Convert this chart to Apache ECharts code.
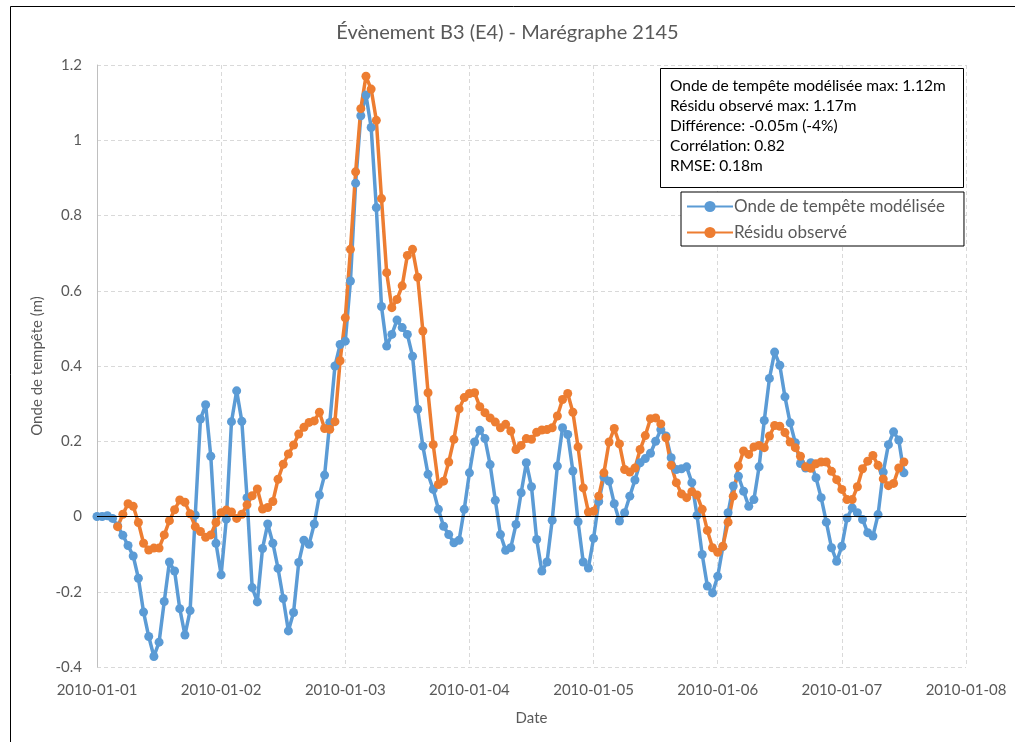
<!DOCTYPE html>
<html lang="fr">
<head>
    <meta charset="UTF-8">
    <title>Évènement B3 (E4) - Marégraphe 2145</title>
    <script type="text/javascript" src="https://cdn.jsdelivr.net/npm/echarts@6/dist/echarts.min.js"></script>
    <style>
        html, body { margin: 0; padding: 0; background: #fff; }
    </style>
</head>
<body>
    <div id="main" style="width: 1015px;height:742px;"></div>
    <script type="text/javascript">
        // étiquettes de l'axe des dates (un tick toutes les 24 h)
        var dateLabels = ['2010-01-01', '2010-01-02', '2010-01-03', '2010-01-04',
                          '2010-01-05', '2010-01-06', '2010-01-07', '2010-01-08'];

        // onde de tempête modélisée, pas horaire depuis 2010-01-01 00:00
        var modelise = [
            0, 0, 0.002, -0.005, -0.025, -0.05, -0.077, -0.105, -0.164, -0.254,
            -0.319, -0.372, -0.334, -0.226, -0.121, -0.145, -0.245, -0.315, -0.25, 0.004,
            0.259, 0.297, 0.16, -0.071, -0.155, -0.007, 0.252, 0.334, 0.253, 0.05,
            -0.189, -0.227, -0.085, -0.02, -0.071, -0.138, -0.218, -0.304, -0.255, -0.122,
            -0.063, -0.074, -0.02, 0.057, 0.11, 0.25, 0.40, 0.457, 0.466, 0.626,
            0.886, 1.065, 1.12, 1.034, 0.821, 0.558, 0.453, 0.484, 0.522, 0.502,
            0.484, 0.426, 0.285, 0.187, 0.112, 0.072, 0.019, -0.026, -0.048, -0.07,
            -0.063, 0.019, 0.116, 0.198, 0.229, 0.207, 0.138, 0.043, -0.048, -0.09,
            -0.083, -0.021, 0.063, 0.143, 0.079, -0.061, -0.145, -0.121, -0.01, 0.134,
            0.236, 0.218, 0.121, -0.014, -0.121, -0.137, -0.058, 0.04, 0.105, 0.094,
            0.034, -0.012, 0.01, 0.054, 0.097, 0.143, 0.154, 0.168, 0.2, 0.231,
            0.214, 0.156, 0.125, 0.127, 0.132, 0.09, 0.003, -0.101, -0.185, -0.203,
            -0.159, -0.08, 0.01, 0.081, 0.107, 0.067, 0.027, 0.045, 0.132, 0.255,
            0.367, 0.437, 0.402, 0.318, 0.249, 0.196, 0.141, 0.129, 0.143, 0.103,
            0.05, -0.015, -0.083, -0.119, -0.079, -0.004, 0.023, 0.01, -0.008, -0.043,
            -0.052, 0.005, 0.118, 0.191, 0.225, 0.203, 0.116
        ];

        // résidu observé, même pas de temps (pas de donnée les 4 premières heures)
        var observe = [
            null, null, null, null, -0.027, 0.006, 0.034, 0.027, -0.016, -0.071,
            -0.089, -0.084, -0.084, -0.049, -0.011, 0.018, 0.044, 0.038, 0.007, -0.027,
            -0.04, -0.055, -0.049, -0.016, 0.01, 0.017, 0.012, -0.005, 0.006, 0.031,
            0.055, 0.073, 0.02, 0.024, 0.04, 0.099, 0.139, 0.166, 0.19, 0.219,
            0.237, 0.25, 0.254, 0.277, 0.234, 0.232, 0.252, 0.414, 0.528, 0.71,
            0.916, 1.084, 1.17, 1.136, 1.053, 0.845, 0.648, 0.555, 0.577, 0.613,
            0.694, 0.71, 0.636, 0.493, 0.329, 0.191, 0.085, 0.094, 0.145, 0.205,
            0.286, 0.316, 0.327, 0.329, 0.292, 0.276, 0.262, 0.251, 0.236, 0.245,
            0.227, 0.178, 0.189, 0.207, 0.205, 0.224, 0.23, 0.231, 0.236, 0.267,
            0.311, 0.327, 0.277, 0.185, 0.076, 0.012, 0.014, 0.054, 0.116, 0.198,
            0.234, 0.193, 0.125, 0.118, 0.129, 0.178, 0.215, 0.26, 0.262, 0.246,
            0.209, 0.136, 0.09, 0.06, 0.05, 0.066, 0.057, 0.019, -0.037, -0.083,
            -0.095, -0.079, -0.015, 0.054, 0.134, 0.174, 0.165, 0.185, 0.189, 0.183,
            0.214, 0.242, 0.24, 0.223, 0.198, 0.183, 0.16, 0.132, 0.128, 0.14,
            0.145, 0.145, 0.12, 0.098, 0.072, 0.045, 0.045, 0.079, 0.127, 0.147,
            0.162, 0.136, 0.1, 0.082, 0.088, 0.129, 0.145
        ];

        // statistiques affichées dans l'encadré
        var statsLines = [
            'Onde de tempête modélisée max: 1.12m',
            'Résidu observé max: 1.17m',
            'Différence: -0.05m (-4%)',
            'Corrélation: 0.82',
            'RMSE: 0.18m'
        ];

        var myChart = echarts.init(document.getElementById('main'));

        // [heure, valeur] pour l'axe numérique
        function toPoints(arr) {
            return arr.map(function (v, i) { return [i, v]; });
        }

        var gris = '#595959';
        var font = 'Lato, "Liberation Sans", sans-serif';

        var option = {
            backgroundColor: '#fff',
            textStyle: { fontFamily: font },
            title: {
                text: 'Évènement B3 (E4) - Marégraphe 2145',
                left: 'center',
                top: 18,
                textStyle: { fontFamily: font, fontSize: 20, fontWeight: 'normal', color: gris }
            },
            legend: {
                orient: 'vertical',
                left: 681,
                top: 192,
                padding: [6, 19, 5, 5],
                itemGap: 9,
                itemWidth: 46,
                itemHeight: 14,
                borderColor: '#000',
                borderWidth: 1,
                backgroundColor: '#fff',
                textStyle: { fontFamily: font, fontSize: 17, color: gris, padding: [0, 0, 0, -4] },
                data: ['Onde de tempête modélisée', 'Résidu observé']
            },
            graphic: [
                {
                    type: 'rect',
                    left: 8, top: 4,
                    shape: { width: 1100, height: 800 },
                    style: { fill: 'none', stroke: '#000', lineWidth: 1 },
                    silent: true
                },
                {
                    type: 'rect',
                    left: 660, top: 68,
                    shape: { width: 303, height: 119 },
                    style: { fill: '#fff', stroke: '#000', lineWidth: 1 },
                    z: 100
                },
                {
                    type: 'text',
                    left: 670, top: 76,
                    style: {
                        text: statsLines.join('\n'),
                        font: '15.5px ' + font,
                        fill: '#000',
                        lineHeight: 20
                    },
                    z: 101
                }
            ],
            grid: {
                left: 97,
                right: 49,
                top: 65,
                bottom: 75
            },
            xAxis: {
                type: 'value',
                min: 0,
                max: 168,
                interval: 24,
                name: 'Date',
                nameLocation: 'middle',
                nameGap: 44,
                nameTextStyle: { fontSize: 15, color: gris },
                axisLine: { lineStyle: { color: '#BFBFBF', width: 1 } },
                axisTick: { show: false },
                axisLabel: {
                    fontSize: 15,
                    color: gris,
                    margin: 16,
                    formatter: function (v) { return dateLabels[v / 24]; }
                },
                splitLine: { show: true, lineStyle: { color: '#D9D9D9', type: [4, 3] } }
            },
            yAxis: {
                type: 'value',
                min: -0.4,
                max: 1.2,
                interval: 0.2,
                name: 'Onde de tempête (m)',
                nameLocation: 'middle',
                nameGap: 52,
                nameTextStyle: { fontSize: 15, color: gris },
                axisLine: { show: true, lineStyle: { color: '#BFBFBF', width: 1 } },
                axisTick: { show: false },
                axisLabel: {
                    fontSize: 15,
                    color: gris,
                    margin: 15,
                    formatter: function (v) { return String(Math.round(v * 10) / 10); }
                },
                splitLine: { show: true, lineStyle: { color: '#D9D9D9', type: [4, 3] } }
            },
            series: [
                {
                    // ligne du zéro, dessinée sous les courbes
                    type: 'line',
                    data: [],
                    silent: true,
                    markLine: {
                        silent: true,
                        symbol: 'none',
                        label: { show: false },
                        lineStyle: { color: '#000', type: 'solid', width: 1 },
                        data: [{ yAxis: 0 }]
                    }
                },
                {
                    name: 'Onde de tempête modélisée',
                    type: 'line',
                    data: toPoints(modelise),
                    symbol: 'circle',
                    symbolSize: 9,
                    color: '#5B9BD5',
                    lineStyle: { width: 3.5, color: '#5B9BD5' },
                    itemStyle: { color: '#5B9BD5' }
                },
                {
                    name: 'Résidu observé',
                    type: 'line',
                    data: toPoints(observe),
                    symbol: 'circle',
                    symbolSize: 9,
                    color: '#ED7D31',
                    lineStyle: { width: 3.5, color: '#ED7D31' },
                    itemStyle: { color: '#ED7D31' }
                }
            ]
        };

        myChart.setOption(option);
    </script>
</body>
</html>
